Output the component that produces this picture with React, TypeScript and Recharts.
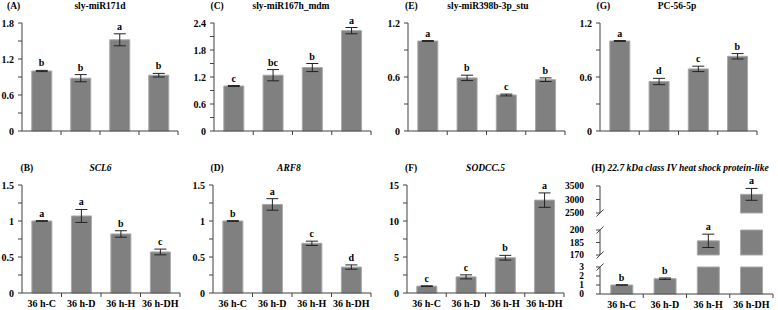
import React from 'react';
import { ComposedChart, Bar, Line, XAxis, YAxis, ErrorBar } from 'recharts';

const categories = ['36 h-C', '36 h-D', '36 h-H', '36 h-DH'];

// (A) sly-miR171d
const miR171dMean = [1.0, 0.88, 1.52, 0.93];
const miR171dErr = [0.01, 0.06, 0.1, 0.03];
const miR171dSig = ['b', 'b', 'a', 'b'];

// (C) sly-miR167h_mdm
const miR167hMean = [1.0, 1.24, 1.41, 2.23];
const miR167hErr = [0.01, 0.125, 0.09, 0.07];
const miR167hSig = ['c', 'bc', 'b', 'a'];

// (E) sly-miR398b-3p_stu
const miR398bMean = [1.0, 0.59, 0.4, 0.57];
const miR398bErr = [0.005, 0.03, 0.01, 0.02];
const miR398bSig = ['a', 'b', 'c', 'b'];

// (G) PC-56-5p
const pc56Mean = [1.0, 0.55, 0.69, 0.83];
const pc56Err = [0.005, 0.035, 0.03, 0.03];
const pc56Sig = ['a', 'd', 'c', 'b'];

// (B) SCL6
const scl6Mean = [1.0, 1.07, 0.82, 0.57];
const scl6Err = [0.005, 0.09, 0.045, 0.04];
const scl6Sig = ['a', 'a', 'b', 'c'];

// (D) ARF8
const arf8Mean = [1.0, 1.23, 0.69, 0.36];
const arf8Err = [0.005, 0.08, 0.03, 0.03];
const arf8Sig = ['b', 'a', 'c', 'd'];

// (F) SODCC.5
const sodMean = [0.95, 2.24, 4.9, 12.9];
const sodErr = [0.05, 0.28, 0.33, 1.0];
const sodSig = ['c', 'c', 'b', 'a'];

// (H) 22.7 kDa class IV heat shock protein-like, broken y axis
const hspMean = [1.0, 1.7, 187, 3190];
const hspErr = [0.03, 0.08, 8, 220];
const hspSig = ['b', 'b', 'a', 'a'];
const hspRanges: [number, number][] = [[0, 3], [170, 200], [2500, 3500]];
const hspTicks = [[0, 1, 2, 3], [170, 185, 200], [2500, 3000, 3500]];

const ticks03 = [0, 0.3, 0.6, 0.9, 1.2, 1.5, 1.8];
const ticks24 = [0, 0.3, 0.6, 0.9, 1.2, 1.5, 1.8, 2.1, 2.4];
const ticks12 = [0, 0.3, 0.6, 0.9, 1.2];
const ticks15 = [0, 0.25, 0.5, 0.75, 1, 1.25, 1.5];
const ticks15b = [0, 2.5, 5, 7.5, 10, 12.5, 15];

const FONT = '"Liberation Serif", "Times New Roman", serif';
const BAR_FILL = '#808080';
const BAR_EDGE = '#a8a8a8';
const AXIS = '#404040';

type Row = { cat: string; v: number | null; e: number | null; top: number | null; sig: string };

// cut the series to one y range; values above are drawn full height, below are dropped
function buildRows(mean: number[], err: number[], sig: string[], lo = -Infinity, hi = Infinity): Row[] {
  return categories.map((cat, i) => {
    const m = mean[i];
    if (m < lo) return { cat, v: null, e: null, top: null, sig: '' };
    const inside = m <= hi;
    return {
      cat,
      v: inside ? m : hi,
      e: inside ? err[i] : null,
      top: inside ? m + err[i] : null,
      sig: inside ? sig[i] : '',
    };
  });
}

const renderSig = (p: any) => {
  const { cx, cy, payload, index } = p;
  if (cy == null || Number.isNaN(cy) || !payload || !payload.sig) return <g key={`s${index}`} />;
  return (
    <text key={`s${index}`} x={cx} y={cy - 4} textAnchor="middle" fontFamily={FONT} fontWeight="bold" fontSize={10} fill="#000">
      {payload.sig}
    </text>
  );
};

const makeXTick = (band: number, labels: boolean) => (p: any) => {
  const { x, y, payload } = p;
  return (
    <g>
      <line x1={x + band / 2} x2={x + band / 2} y1={y} y2={y + 4} stroke={AXIS} />
      {labels && (
        <text x={x} y={y + 14} textAnchor="middle" fontFamily={FONT} fontWeight="bold" fontSize={10} fill="#000">
          {payload.value}
        </text>
      )}
    </g>
  );
};

interface PanelProps {
  rows: Row[];
  plotX: number;
  plotY: number;
  plotW: number;
  plotH: number;
  domain: [number, number];
  ticks: number[];
  every?: number;
  xMode: 'labels' | 'ticks' | 'none';
  labelGap?: number;
  tickFont?: number;
}

const Panel: React.FC<PanelProps> = ({ rows, plotX, plotY, plotW, plotH, domain, ticks, every = 2, xMode, labelGap = 4, tickFont = 10 }) => {
  const padL = 40;
  const padT = 16;
  const padR = 6;
  const xH = xMode === 'labels' ? 20 : xMode === 'ticks' ? 6 : 0;
  const padB = xMode === 'none' ? 8 : 0;
  return (
    <div style={{ position: 'absolute', left: plotX - padL, top: plotY - padT }}>
      <ComposedChart
        width={padL + plotW + padR}
        height={padT + plotH + xH + padB}
        data={rows}
        margin={{ top: padT, right: padR, bottom: padB, left: 0 }}
        barCategoryGap="25%"
      >
        <XAxis
          dataKey="cat"
          hide={xMode === 'none'}
          height={xH}
          axisLine={{ stroke: AXIS }}
          tickLine={false}
          tickSize={0}
          tickMargin={0}
          interval={0}
          tick={makeXTick(plotW / 4, xMode === 'labels')}
        />
        <YAxis
          type="number"
          width={padL}
          domain={domain}
          ticks={ticks}
          interval={0}
          axisLine={{ stroke: AXIS }}
          tickLine={{ stroke: AXIS }}
          tickSize={4}
          tickMargin={labelGap}
          tickFormatter={(v: number, i: number) => (i % every === 0 ? String(v) : '')}
          tick={{ fontFamily: FONT, fontSize: tickFont, fontWeight: 'bold', fill: '#000' }}
        />
        <Bar dataKey="v" fill={BAR_FILL} stroke={BAR_EDGE} strokeWidth={1} isAnimationActive={false}>
          <ErrorBar dataKey="e" width={6} stroke="#222" strokeWidth={1} direction="y" />
        </Bar>
        <Line dataKey="top" stroke="none" isAnimationActive={false} dot={renderSig} activeDot={false} legendType="none" />
      </ComposedChart>
    </div>
  );
};

const TOP_Y = 23;
const BOT_Y = 185;
const ROW_H = 108;

// pixel placement of the three pieces of panel H (bottom piece first)
const hspPlace = [
  { y: 267, h: 27 },
  { y: 230, h: 25 },
  { y: 186, h: 27 },
];
const H_X = 600;
const H_W = 173;

const titleStyle = { fontFamily: FONT, fontWeight: 'bold' as const, fontSize: 9.5, fill: '#000' };

const App: React.FC = () => {
  const breaks: number[] = [];
  hspPlace.forEach((p, i) => {
    if (i > 0) breaks.push(p.y + p.h);
    if (i < hspPlace.length - 1) breaks.push(p.y);
  });
  return (
    <div style={{ position: 'absolute', left: 0, top: 0, width: 778, height: 310, background: '#fff', overflow: 'hidden' }}>
      <Panel rows={buildRows(miR171dMean, miR171dErr, miR171dSig)} plotX={22} plotY={TOP_Y} plotW={156} plotH={ROW_H} domain={[0, 1.8]} ticks={ticks03} xMode="ticks" />
      <Panel rows={buildRows(miR167hMean, miR167hErr, miR167hSig)} plotX={214} plotY={TOP_Y} plotW={157} plotH={ROW_H} domain={[0, 2.4]} ticks={ticks24} xMode="ticks" />
      <Panel rows={buildRows(miR398bMean, miR398bErr, miR398bSig)} plotX={408} plotY={TOP_Y} plotW={157} plotH={ROW_H} domain={[0, 1.2]} ticks={ticks12} xMode="ticks" />
      <Panel rows={buildRows(pc56Mean, pc56Err, pc56Sig)} plotX={600} plotY={TOP_Y} plotW={157} plotH={ROW_H} domain={[0, 1.2]} ticks={ticks12} xMode="ticks" />

      <Panel rows={buildRows(scl6Mean, scl6Err, scl6Sig)} plotX={22} plotY={BOT_Y} plotW={158} plotH={ROW_H} domain={[0, 1.5]} ticks={ticks15} xMode="labels" />
      <Panel rows={buildRows(arf8Mean, arf8Err, arf8Sig)} plotX={213} plotY={BOT_Y} plotW={158} plotH={ROW_H} domain={[0, 1.5]} ticks={ticks15} xMode="labels" />
      <Panel rows={buildRows(sodMean, sodErr, sodSig)} plotX={407} plotY={BOT_Y} plotW={157} plotH={ROW_H} domain={[0, 15]} ticks={ticks15b} xMode="labels" />
      {hspRanges.map((r, i) => (
        <Panel
          key={i}
          rows={buildRows(hspMean, hspErr, hspSig, r[0], r[1])}
          plotX={H_X}
          plotY={hspPlace[i].y}
          plotW={H_W}
          plotH={hspPlace[i].h}
          domain={r}
          ticks={hspTicks[i]}
          every={1}
          xMode={i === 0 ? 'labels' : 'none'}
          labelGap={12}
          tickFont={9.5}
        />
      ))}

      <svg width={778} height={310} style={{ position: 'absolute', left: 0, top: 0, pointerEvents: 'none' }}>
        <text x={7} y={8.5} {...titleStyle}>(A)</text>
        <text x={100} y={8.5} textAnchor="middle" {...titleStyle}>sly-miR171d</text>
        <text x={210.5} y={8.5} {...titleStyle}>(C)</text>
        <text x={291} y={8.5} textAnchor="middle" {...titleStyle}>sly-miR167h_mdm</text>
        <text x={405} y={8.5} {...titleStyle}>(E)</text>
        <text x={488} y={8.5} textAnchor="middle" {...titleStyle}>sly-miR398b-3p_stu</text>
        <text x={596.5} y={8.5} {...titleStyle}>(G)</text>
        <text x={677} y={8.5} textAnchor="middle" {...titleStyle}>PC-56-5p</text>

        <text x={20.5} y={171} {...titleStyle}>(B)</text>
        <text x={100.5} y={171} textAnchor="middle" {...titleStyle} fontStyle="italic">SCL6</text>
        <text x={210.5} y={171} {...titleStyle}>(D)</text>
        <text x={289} y={171} textAnchor="middle" {...titleStyle} fontStyle="italic">ARF8</text>
        <text x={405} y={171} {...titleStyle}>(F)</text>
        <text x={485.5} y={171} textAnchor="middle" {...titleStyle} fontStyle="italic">SODCC.5</text>
        <text x={591.5} y={171} {...titleStyle}>
          (H) <tspan fontStyle="italic">22.7 kDa class IV heat shock protein-like</tspan>
        </text>

        {breaks.map((y, i) => (
          <line key={i} x1={H_X - 3.5} y1={y + 3.5} x2={H_X + 3.5} y2={y - 3.5} stroke={AXIS} strokeWidth={1} />
        ))}
      </svg>
    </div>
  );
};

export default App;
